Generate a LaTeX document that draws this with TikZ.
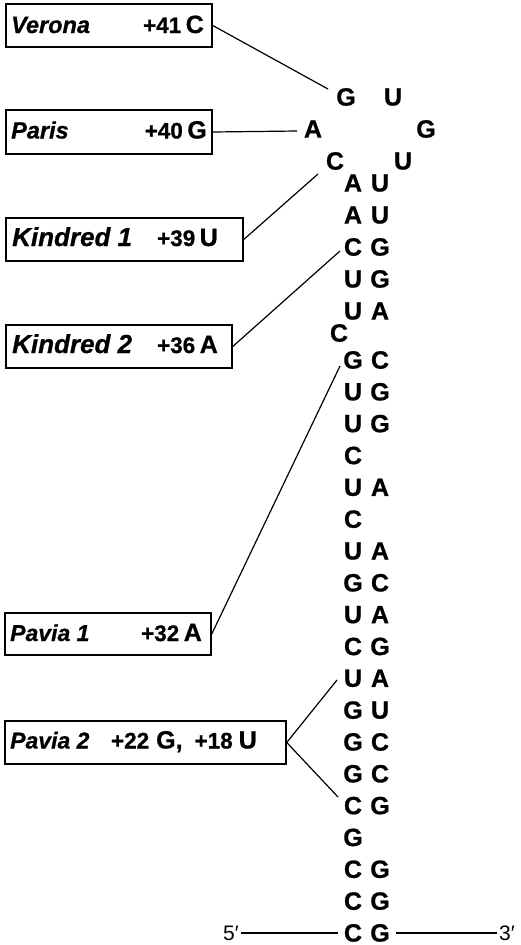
\documentclass[tikz,border=0pt]{standalone}
\usepackage{fontspec}
\setmainfont{Liberation Sans}[BoldFeatures={FakeBold=0.8},BoldItalicFeatures={FakeBold=0.8}]
\newcommand\labtxt[2]{{\fontsize{#1}{#1}\selectfont\bfseries\itshape #2}}
\newcommand\mnum[1]{{\fontsize{22.5}{22.5}\selectfont\bfseries #1}}
\newcommand\mnt[1]{{\fontsize{25}{25}\selectfont\bfseries #1}}
\begin{document}
\begin{tikzpicture}[x=1pt,y=-1pt,
  nt/.style={inner sep=0pt, font=\fontsize{25}{25}\selectfont\bfseries},
  lbox/.style={draw, line width=1.5pt, inner sep=0pt},
  lab/.style={inner sep=0pt, anchor=base west},
  mut/.style={inner sep=0pt, anchor=base east},
  conn/.style={line width=1.2pt},
  endline/.style={line width=2.2pt},
  prime/.style={inner sep=0pt, font=\fontsize{21}{21}\selectfont}]
\useasboundingbox (0,0) rectangle (520,945);

% label boxes
\node[lbox, minimum width=206pt, minimum height=43pt] (verona) at (109,25.5) {};
\node[lab] (veronaL) at (11,33) {\labtxt{23.5}{Verona}};
\node[mut] (veronaM) at (204,33) {\mnum{+41}\hspace{4.5pt}\mnt{C}};

\node[lbox, minimum width=206pt, minimum height=44pt] (paris) at (109,132) {};
\node[lab] (parisL) at (11,138.5) {\labtxt{23.5}{Paris}};
\node[mut] (parisM) at (207,138.5) {\mnum{+40}\hspace{4.5pt}\mnt{G}};

\node[lbox, minimum width=237pt, minimum height=43pt] (kin1) at (124.5,239.5) {};
\node[lab] (kin1L) at (12,246) {\labtxt{26}{Kindred 1}};
\node[mut] (kin1M) at (218,246) {\mnum{+39}\hspace{4.5pt}\mnt{U}};

\node[lbox, minimum width=226pt, minimum height=43pt] (kin2) at (119,346.5) {};
\node[lab] (kin2L) at (12,353) {\labtxt{26}{Kindred 2}};
\node[mut] (kin2M) at (218,353) {\mnum{+36}\hspace{4.5pt}\mnt{A}};

\node[lbox, minimum width=206pt, minimum height=42pt] (pav1) at (108,634) {};
\node[lab] (pav1L) at (10,641) {\labtxt{23}{Pavia 1}};
\node[mut] (pav1M) at (202,641) {\mnum{+32}\hspace{4.5pt}\mnt{A}};

\node[lbox, minimum width=281pt, minimum height=43pt] (pav2) at (145.5,742.5) {};
\node[lab] (pav2L) at (10,748.5) {\labtxt{23}{Pavia 2}};
\node[mut] (pav2M) at (257,748.5) {\mnum{+22}\hspace{7pt}\mnt{G,}\hspace{12pt}\mnum{+18}\hspace{6pt}\mnt{U}};

% loop
\node[nt] (lG1) at (346,97) {G};
\node[nt] (lU1) at (393,97) {U};
\node[nt] (lA)  at (313,129) {A};
\node[nt] (lG2) at (426,129) {G};
\node[nt] (lC)  at (335,161) {C};
\node[nt] (lU2) at (403,161) {U};

% upper stem
\foreach \i/\a/\b in {1/A/U,2/A/U,3/C/G,4/U/G,5/U/A} {
  \node[nt] (L\i) at (353,{183+(\i-1)*32}) {\a};
  \node[nt] (R\i) at (380,{183+(\i-1)*32}) {\b};
}
\node[nt] (bC) at (339,333) {C};
% lower stem
\foreach \i/\a/\b in {6/G/C,7/U/G,8/U/G,10/U/A,12/U/A,13/G/C,14/U/A,15/C/G,16/U/A,17/G/U,18/G/C,19/G/C,20/C/G,22/C/G,23/C/G,24/C/G} {
  \node[nt] (L\i) at (353,{360+(\i-6)*31.83}) {\a};
  \node[nt] (R\i) at (380,{360+(\i-6)*31.83}) {\b};
}
\foreach \i/\a in {9/C,11/C,21/G} {
  \node[nt] (L\i) at (353,{360+(\i-6)*31.83}) {\a};
}

% connectors
\coordinate (e41) at (328,89);
\coordinate (e40) at (297,131);
\coordinate (e39) at (318,174);
\coordinate (e36) at (340,251);
\coordinate (e32) at (340,366);
\coordinate (e22) at (337,680);
\coordinate (e18) at (338,797);
\draw[conn] (verona.east) -- (e41);
\draw[conn] (paris.east) -- (e40);
\draw[conn] (kin1.east) -- (e39);
\draw[conn] (kin2.east) -- (e36);
\draw[conn] (pav1.east) -- (e32);
\draw[conn] (pav2.east) -- (e22);
\draw[conn] (pav2.east) -- (e18);

% ends
\node[prime] (p5) at (231,933) {5′};
\node[prime] (p3) at (507,933) {3′};
\draw[endline] ([xshift=2pt]L24.west -| p5.east) -- ([xshift=-6pt]L24.west);
\draw[endline] ([xshift=6pt]R24.east) -- ([xshift=-2pt]R24.east -| p3.west);
\end{tikzpicture}
\end{document}
